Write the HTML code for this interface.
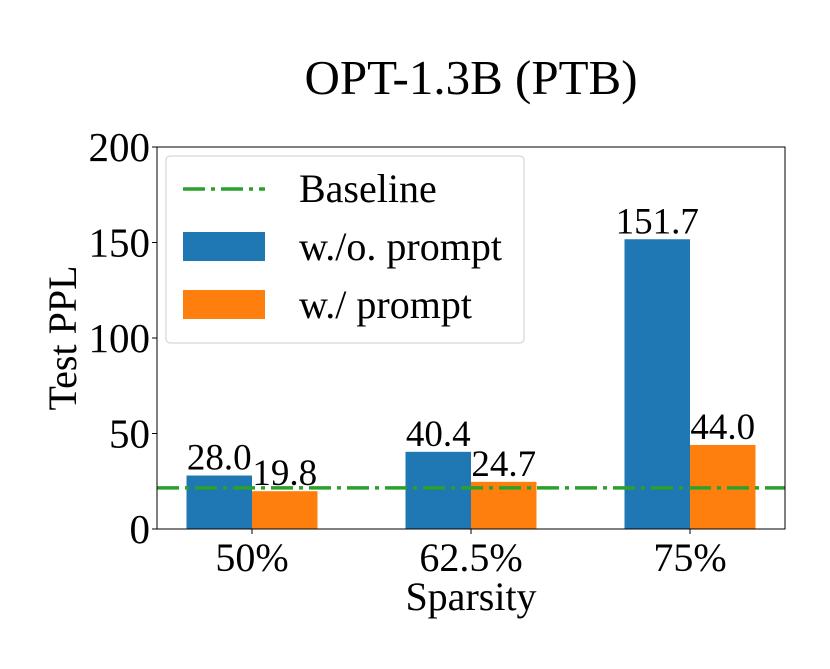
<!DOCTYPE html>
<html><head><meta charset="utf-8"><style>
body{margin:0;background:#fff}
svg text{font-family:"Liberation Serif",serif;fill:#000}
</style></head><body>
<svg width="830" height="664">
<g id="g"></g>
</svg>
<script>
const categories=["50%","62.5%","75%"];
const noPrompt=[28.0,40.4,151.7];
const withPrompt=[19.8,24.7,44.0];
const baseline=[21.5];
const yTicks=[0,50,100,150,200];
const L=157,R=785,T=147,B=529;
const y=v=>B-(v/200)*(B-T);
const x=i=>252+i*219;
const bw=65.5;
const NS="http://www.w3.org/2000/svg";
const g=document.getElementById('g');
function mk(t,a,txt){const e=document.createElementNS(NS,t);for(const k in a)e.setAttribute(k,a[k]);if(txt!=null)e.textContent=txt;g.appendChild(e);return e;}
let e;
e=mk('text',{x:471,y:94,'font-size':49,'text-anchor':'middle'},'OPT-1.3B (PTB)');

categories.forEach((c,i)=>{
 e=mk('rect',{x:x(i)-bw,y:y(noPrompt[i]),width:bw,height:B-y(noPrompt[i]),fill:'#1f77b4'});
 
 e=mk('rect',{x:x(i),y:y(withPrompt[i]),width:bw,height:B-y(withPrompt[i]),fill:'#ff7f0e'});
 
 e=mk('text',{x:x(i)-bw/2,y:y(noPrompt[i])-6,'font-size':37,'text-anchor':'middle'},noPrompt[i].toFixed(1));
 
 e=mk('text',{x:x(i)+bw/2,y:y(withPrompt[i])-6,'font-size':37,'text-anchor':'middle'},withPrompt[i].toFixed(1));
 
 e=mk('line',{x1:x(i),x2:x(i),y1:B,y2:B+5,stroke:'#000'});
 
 e=mk('text',{x:x(i),y:B+42,'font-size':40,'text-anchor':'middle'},c);
 
});
e=mk('line',{x1:L,x2:R,y1:y(baseline[0]),y2:y(baseline[0]),stroke:'#2ca02c','stroke-width':3.5,'stroke-dasharray':'22,6,4,6'});

yTicks.forEach(v=>{
 e=mk('line',{x1:L-5,x2:L,y1:y(v),y2:y(v),stroke:'#000'});
 
 e=mk('text',{x:L-7,y:y(v)+14,'font-size':41,'text-anchor':'end'},v);
 
});
e=mk('rect',{x:L,y:T,width:R-L,height:B-T,fill:'none',stroke:'#000','stroke-width':1});

e=mk('text',{x:471,y:610,'font-size':40,'text-anchor':'middle'},'Sparsity');

e=mk('text',{x:0,y:0,'font-size':40,'text-anchor':'middle',transform:'translate(76,338) rotate(-90)'},'Test PPL');

e=mk('rect',{x:166,y:156,width:358,height:187,rx:4,fill:'#fff',stroke:'#ccc','fill-opacity':0.8});

e=mk('line',{x1:183,x2:265,y1:189,y2:189,stroke:'#2ca02c','stroke-width':3.5,'stroke-dasharray':'22,6,4,6'});

e=mk('text',{x:299,y:202,'font-size':40},'Baseline');

e=mk('rect',{x:183,y:232,width:82,height:29,fill:'#1f77b4'});

e=mk('text',{x:299,y:260,'font-size':40},'w./o. prompt');

e=mk('rect',{x:183,y:290,width:82,height:29,fill:'#ff7f0e'});

e=mk('text',{x:299,y:318,'font-size':40},'w./ prompt');

</script>
</body></html>
